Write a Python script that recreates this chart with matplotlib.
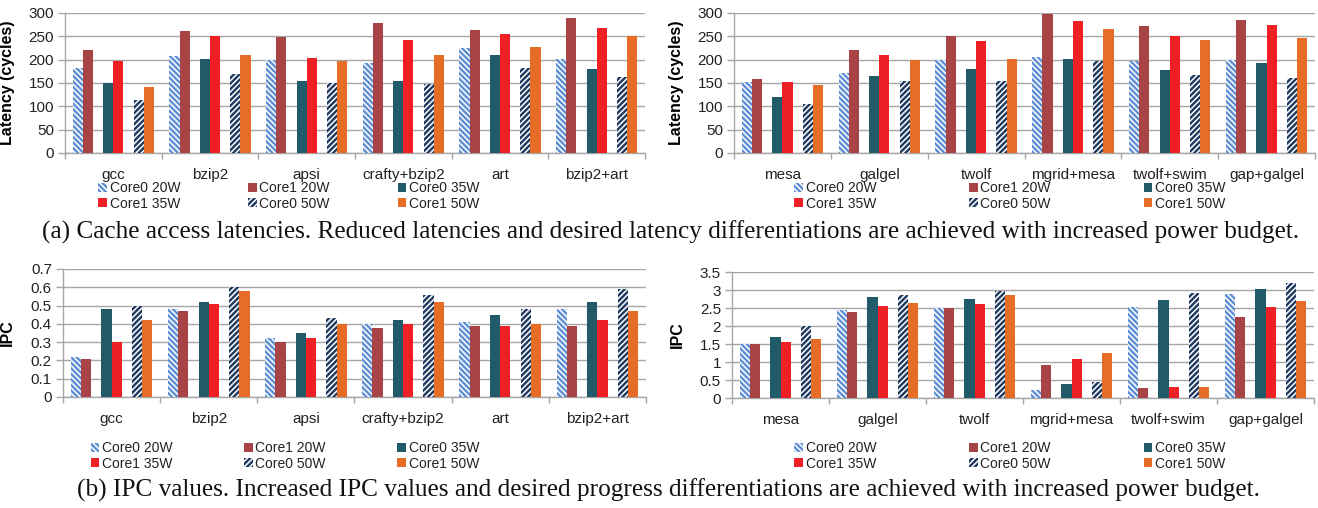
import matplotlib
matplotlib.use("Agg")
import matplotlib.pyplot as plt
import numpy as np
from matplotlib.patches import Patch

plt.rcParams['font.family'] = ['Liberation Sans', 'DejaVu Sans']
plt.rcParams['hatch.linewidth'] = 1.1

series = ["Core0 20W", "Core1 20W", "Core0 35W", "Core1 35W", "Core0 50W", "Core1 50W"]

cats_a = ["gcc", "bzip2", "apsi", "crafty+bzip2", "art", "bzip2+art"]
cats_b = ["mesa", "galgel", "twolf", "mgrid+mesa", "twolf+swim", "gap+galgel"]

lat_left = {
    "Core0 20W": [182, 208, 199, 193, 225, 201],
    "Core1 20W": [221, 262, 249, 279, 264, 290],
    "Core0 35W": [151, 201, 155, 155, 209, 180],
    "Core1 35W": [197, 251, 203, 243, 255, 268],
    "Core0 50W": [113, 170, 151, 148, 183, 163],
    "Core1 50W": [142, 211, 197, 209, 227, 251],
}
lat_right = {
    "Core0 20W": [152, 172, 200, 206, 197, 200],
    "Core1 20W": [159, 221, 251, 298, 272, 285],
    "Core0 35W": [119, 164, 181, 202, 177, 192],
    "Core1 35W": [152, 211, 240, 282, 251, 274],
    "Core0 50W": [106, 154, 155, 198, 168, 161],
    "Core1 50W": [146, 200, 202, 265, 243, 246],
}
ipc_left = {
    "Core0 20W": [0.22, 0.48, 0.32, 0.40, 0.41, 0.48],
    "Core1 20W": [0.21, 0.47, 0.30, 0.38, 0.39, 0.39],
    "Core0 35W": [0.48, 0.52, 0.35, 0.42, 0.45, 0.52],
    "Core1 35W": [0.30, 0.51, 0.32, 0.40, 0.39, 0.42],
    "Core0 50W": [0.50, 0.60, 0.43, 0.56, 0.48, 0.59],
    "Core1 50W": [0.42, 0.58, 0.40, 0.52, 0.40, 0.47],
}
ipc_right = {
    "Core0 20W": [1.50, 2.44, 2.50, 0.23, 2.52, 2.90],
    "Core1 20W": [1.50, 2.40, 2.49, 0.93, 0.27, 2.26],
    "Core0 35W": [1.70, 2.80, 2.75, 0.38, 2.71, 3.03],
    "Core1 35W": [1.55, 2.55, 2.61, 1.07, 0.30, 2.52],
    "Core0 50W": [2.00, 2.86, 2.98, 0.45, 2.93, 3.20],
    "Core1 50W": [1.65, 2.65, 2.86, 1.24, 0.31, 2.69],
}

styles = {
    "Core0 20W": dict(facecolor="#5E8FD4", hatch="\\\\\\\\\\\\", edgecolor="white"),
    "Core1 20W": dict(facecolor="#A84445", edgecolor="none"),
    "Core0 35W": dict(facecolor="#215A69", edgecolor="none"),
    "Core1 35W": dict(facecolor="#EE1F25", edgecolor="none"),
    "Core0 50W": dict(facecolor="#1F3A60", hatch="//////", edgecolor="white"),
    "Core1 50W": dict(facecolor="#E56D25", edgecolor="none"),
}
slots = [0, 1, 3, 4, 6, 7]

W, H = 1318, 508
fig = plt.figure(figsize=(W / 100, H / 100), dpi=100)

def rect(l, t, r, b):
    return [l / W, 1 - b / H, (r - l) / W, (b - t) / H]

def draw(ax, cats, data, ymax, ystep, ylabel, yfmt, xpad):
    n = len(cats)
    x = np.arange(n)
    bw = 0.105
    margin = (1 - 8 * bw) / 2
    for s, k in zip(series, slots):
        off = -0.5 + margin + bw * (k + 0.5)
        ax.bar(x + off, data[s], bw, linewidth=0, zorder=3, **styles[s])
    ax.set_xlim(-0.5, n - 0.5)
    ax.set_ylim(0, ymax)
    ticks = np.arange(0, ymax + ystep / 2, ystep)
    ax.set_yticks(ticks)
    ax.set_yticklabels([yfmt(t) for t in ticks])
    ax.yaxis.grid(True, color="#A6A6A6", linewidth=1.0, zorder=0)
    ax.set_axisbelow(True)
    ax.set_xticks(x)
    ax.set_xticklabels(cats)
    ax.set_xticks(np.arange(-0.5, n, 1.0), minor=True)
    ax.tick_params(axis="x", which="major", length=0, pad=xpad, labelsize=11, colors="#222222")
    ax.tick_params(axis="x", which="minor", length=4, color="#A6A6A6", width=1)
    ax.tick_params(axis="y", length=5, width=1, labelsize=11, pad=3, labelcolor="#222222", color="#A6A6A6")
    for sp in ["top", "right"]:
        ax.spines[sp].set_visible(False)
    for sp in ["left", "bottom"]:
        ax.spines[sp].set_color("#A6A6A6")
        ax.spines[sp].set_linewidth(1)
    ax.set_ylabel(ylabel, fontsize=11.5, fontweight="bold")

def fmt_int(t):
    return "%d" % round(t)

def fmt_g(t):
    return "%g" % round(t, 2)

ax1 = fig.add_axes(rect(65, 13, 645, 153))
draw(ax1, cats_a, lat_left, 300, 50, "Latency (cycles)", fmt_int, 10.5)
ax2 = fig.add_axes(rect(734, 13, 1315, 153))
draw(ax2, cats_b, lat_right, 300, 50, "Latency (cycles)", fmt_int, 10.5)
ax3 = fig.add_axes(rect(63, 269, 646, 397))
draw(ax3, cats_a, ipc_left, 0.7, 0.1, "IPC", fmt_g, 10.5)
ax4 = fig.add_axes(rect(732, 272, 1314, 398))
draw(ax4, cats_b, ipc_right, 3.5, 0.5, "IPC", fmt_g, 10.5)

ax1.yaxis.set_label_coords((15 - 65) / 580, 0.5)
ax2.yaxis.set_label_coords((684 - 734) / 581, 0.5)
ax3.yaxis.set_label_coords((15 - 63) / 583, 0.5)
ax4.yaxis.set_label_coords((685 - 732) / 582, 0.5)

order = ["Core0 20W", "Core1 35W", "Core1 20W", "Core0 50W", "Core0 35W", "Core1 50W"]

def add_legend(cx, cy, colsp):
    handles = []
    for s in order:
        st = dict(styles[s])
        handles.append(Patch(linewidth=0, label=s, **st))
    leg = fig.legend(handles=handles, loc="center", bbox_to_anchor=(cx / W, 1 - cy / H),
                     ncol=3, frameon=False, fontsize=10, handlelength=0.6, handleheight=0.6,
                     handletextpad=0.2, columnspacing=colsp, labelspacing=0.1, borderpad=0)
    for t in leg.get_texts():
        t.set_color("#222222")
    return leg

add_legend(289, 196, 4.9)
add_legend(1010, 196, 6.7)
add_legend(285, 456, 5.15)
add_legend(1010, 456, 6.7)

cap_font = dict(family=["Liberation Serif", "DejaVu Serif"], fontsize=18.2, color="#111111")
fig.text(671 / W, 1 - 232 / H,
         "(a) Cache access latencies. Reduced latencies and desired latency differentiations are achieved with increased power budget.",
         ha="center", va="center", **cap_font)
fig.text(668 / W, 1 - 490 / H,
         "(b) IPC values. Increased IPC values and desired progress differentiations are achieved with increased power budget.",
         ha="center", va="center", **cap_font)

fig.savefig("out.png", dpi=100)
